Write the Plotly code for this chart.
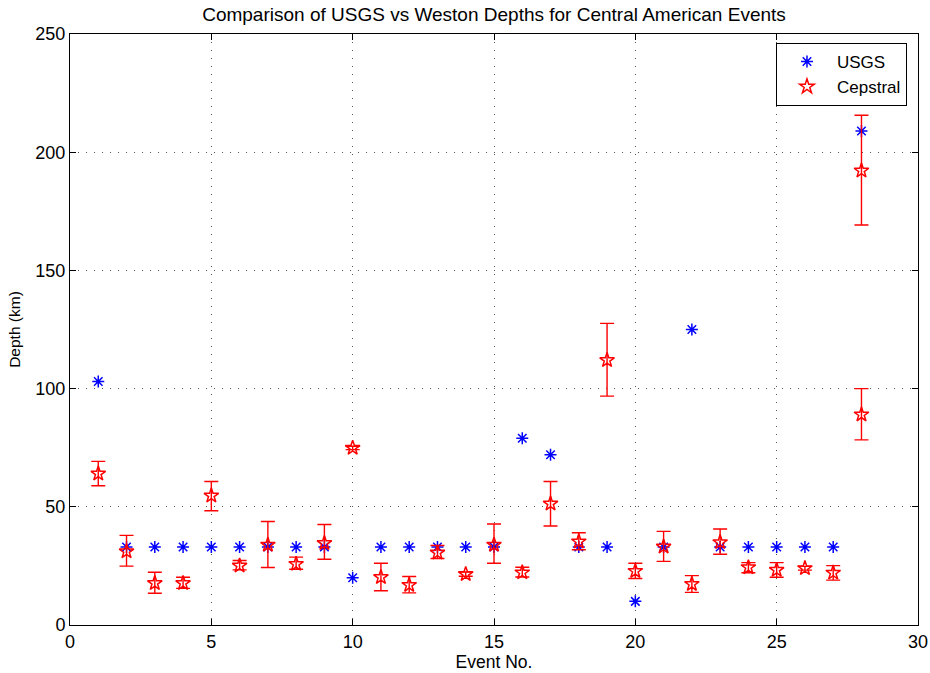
import plotly.graph_objects as go

# USGS depths per event
usgs_event = list(range(1, 29))
usgs_depth = [103, 33, 33, 33, 33, 33, 33, 33, 33, 20,
              33, 33, 33, 33, 33, 79, 72, 33, 33, 10,
              33, 125, 33, 33, 33, 33, 33, 209]

# Cepstral (Weston) depths, with error bar upper / lower limits
cep_event = [1, 2, 3, 4, 5, 6, 7, 8, 9, 10,
             11, 12, 13, 14, 15, 16, 17, 18, 19, 20,
             21, 22, 23, 24, 25, 26, 27, 28, 28]
cep_depth = [64, 31.1, 17.7, 17.7, 54.7, 25.1, 33.9, 25.8, 34.6, 74.9,
             20.2, 16.9, 30.6, 21.5, 33.9, 22.2, 51.3, 35.3, 112, 22.8,
             33.1, 17.3, 35, 24.4, 23.3, 24, 22.1, 192.2, 89]
cep_upper = [69.2, 37.9, 22.3, 20.2, 60.7, 27.3, 43.8, 28.7, 42.5, 75.6,
             26.1, 20.5, 33.6, 22.4, 42.7, 24.4, 60.7, 39, 127.6, 26.1,
             39.6, 20.9, 40.6, 26.4, 26.4, 24.8, 25.1, 215.6, 100]
cep_lower = [58.9, 24.9, 13.4, 15.5, 48.3, 23.3, 24.3, 23.6, 27.8, 74.2,
             14.5, 13.6, 28.1, 20.6, 26.1, 20.3, 41.9, 31.8, 96.8, 19.7,
             26.9, 13.8, 29.9, 22.1, 20.2, 23.2, 19, 169.2, 78.3]

x_ticks = [0, 5, 10, 15, 20, 25, 30]
y_ticks = [0, 50, 100, 150, 200, 250]

err_plus = [u - d for u, d in zip(cep_upper, cep_depth)]
err_minus = [d - l for d, l in zip(cep_depth, cep_lower)]

FONT = "Liberation Sans, Arial, Helvetica, sans-serif"

fig = go.Figure()
fig.add_trace(go.Scatter(
    x=usgs_event, y=usgs_depth, mode="markers", name="USGS",
    marker=dict(symbol="asterisk-open", size=10, color="blue",
                line=dict(color="blue", width=1.5)),
))
fig.add_trace(go.Scatter(
    x=cep_event, y=cep_depth, mode="markers", name="Cepstral",
    marker=dict(symbol="star-open", size=11, color="red",
                line=dict(color="red", width=1.5)),
    error_y=dict(type="data", symmetric=False, array=err_plus,
                 arrayminus=err_minus, color="red", thickness=1.4, width=7),
))

axis_common = dict(
    showline=True, linecolor="black", linewidth=1, mirror="ticks",
    ticks="inside", ticklen=6, tickcolor="black", tickwidth=1,
    showgrid=True, gridcolor="#555555", griddash="1px,7px", gridwidth=1,
    zeroline=False, automargin=False,
    tickfont=dict(size=18, color="black", family=FONT),
)

fig.update_layout(
    width=930, height=673,
    margin=dict(l=70, r=12, t=34, b=48, autoexpand=False),
    paper_bgcolor="white", plot_bgcolor="white",
    font=dict(family=FONT, color="black"),
    title=dict(text="Comparison of USGS vs Weston Depths for Central American Events",
               x=0.5, xref="paper", xanchor="center", y=0.979, yanchor="middle",
               font=dict(size=19, color="black")),
    xaxis=dict(range=[0, 30], tickvals=x_ticks,
               title=dict(text="Event No.", font=dict(size=17.5), standoff=2),
               **axis_common),
    yaxis=dict(range=[0, 250], tickvals=y_ticks,
               title=dict(text="Depth (km)", font=dict(size=15.5), standoff=10),
               **axis_common),
    legend=dict(x=0.987, y=0.985, xanchor="right", yanchor="top",
                bgcolor="white", bordercolor="black", borderwidth=1,
                font=dict(size=17, color="black"), itemwidth=50,
                tracegroupgap=0),
    showlegend=True,
)

fig.write_html("out.html")
